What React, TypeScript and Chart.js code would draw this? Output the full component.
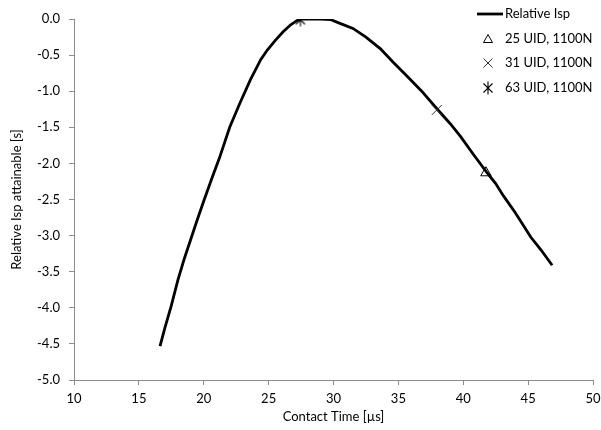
import React, { useEffect, useRef } from "react";
import { Chart, registerables } from "chart.js";

Chart.register(...registerables);

const curveX = [16.63, 17.0, 17.5, 18.0, 18.5, 19.0, 19.5, 20.0, 20.6, 21.2, 22.0, 22.8, 23.6, 24.4, 24.9, 25.5, 26.1, 26.7, 27.2, 27.6, 28.2, 29.0, 29.8, 30.5, 31.5, 32.5, 33.6, 34.6, 35.6, 36.8, 38.0, 39.0, 39.8, 40.8, 41.8, 42.5, 43.1, 44.0, 45.2, 46.0, 46.85];
const curveY = [-4.53, -4.28, -3.97, -3.62, -3.32, -3.05, -2.78, -2.52, -2.22, -1.93, -1.5, -1.16, -0.84, -0.56, -0.43, -0.3, -0.18, -0.08, -0.02, 0.0, 0.0, 0.0, -0.01, -0.06, -0.13, -0.25, -0.41, -0.6, -0.78, -1.0, -1.25, -1.45, -1.63, -1.88, -2.12, -2.28, -2.45, -2.68, -3.02, -3.2, -3.41];

const seriesNames = ["Relative Isp", "25 UID, 1100N", "31 UID, 1100N", "63 UID, 1100N"];
const uid25 = { x: 41.75, y: -2.13 };
const uid31 = { x: 37.96, y: -1.26 };
const uid63 = { x: 27.45, y: -0.01 };

const xTicks = { min: 10, max: 50, step: 5 };
const yTicks = { min: -5, max: 0, step: 0.5 };

const FONT = "Lato, 'Open Sans', sans-serif";
const FS = 13;
const AXIS = "#8c8c8c";

function makeAsterisk(): HTMLCanvasElement {
  const c = document.createElement("canvas");
  c.width = 14;
  c.height = 14;
  const g = c.getContext("2d")!;
  g.strokeStyle = "#000";
  g.lineWidth = 1.1;
  g.beginPath();
  g.moveTo(2.5, 2.5); g.lineTo(11.5, 11.5);
  g.moveTo(11.5, 2.5); g.lineTo(2.5, 11.5);
  g.moveTo(7, 0.5); g.lineTo(7, 13.5);
  g.stroke();
  return c;
}

export default function App() {
  const ref = useRef<HTMLCanvasElement | null>(null);
  useEffect(() => {
    if (!ref.current) return;
    const ast = makeAsterisk();
    const legendPlugin = {
      id: "customLegend",
      afterDraw(chart: any) {
        const ctx = chart.ctx;
        ctx.save();
        ctx.font = `${FS}px ${FONT}`;
        ctx.fillStyle = "#000";
        ctx.textBaseline = "middle";
        ctx.textAlign = "left";
        const tx = 505;
        const mx = 488;
        const ys = [14, 39, 63, 88];
        ctx.strokeStyle = "#000";
        ctx.lineWidth = 2.8;
        ctx.beginPath();
        ctx.moveTo(477, ys[0]);
        ctx.lineTo(503, ys[0]);
        ctx.stroke();
        ctx.lineWidth = 1;
        ctx.strokeStyle = "#000";
        ctx.beginPath();
        ctx.moveTo(mx, ys[1] - 4.5);
        ctx.lineTo(mx + 4.5, ys[1] + 3.5);
        ctx.lineTo(mx - 4.5, ys[1] + 3.5);
        ctx.closePath();
        ctx.stroke();
        ctx.strokeStyle = "#333";
        ctx.beginPath();
        ctx.moveTo(mx - 4.5, ys[2] - 4.5);
        ctx.lineTo(mx + 4.5, ys[2] + 4.5);
        ctx.moveTo(mx + 4.5, ys[2] - 4.5);
        ctx.lineTo(mx - 4.5, ys[2] + 4.5);
        ctx.stroke();
        ctx.drawImage(ast, mx - 7, ys[3] - 7);
        seriesNames.forEach((n, i) => ctx.fillText(n, tx, ys[i]));
        ctx.restore();
      },
    };
    const chart = new Chart(ref.current, {
      type: "scatter",
      data: {
        datasets: [
          {
            label: seriesNames[0],
            data: curveX.map((x, i) => ({ x, y: curveY[i] })),
            showLine: true,
            borderColor: "#000",
            borderWidth: 2.8,
            pointRadius: 0,
            tension: 0,
            order: 2,
          },
          {
            label: seriesNames[1],
            data: [uid25],
            pointStyle: "triangle",
            pointRadius: 6,
            borderColor: "#000",
            backgroundColor: "rgba(0,0,0,0)",
            borderWidth: 1,
            order: 1,
          },
          {
            label: seriesNames[2],
            data: [uid31],
            pointStyle: "crossRot",
            pointRadius: 7,
            borderColor: "#333",
            borderWidth: 1,
            order: 1,
          },
          {
            label: seriesNames[3],
            data: [uid63],
            pointStyle: ast,
            pointRadius: 7,
            order: 1,
          },
        ],
      },
      options: {
        animation: false,
        responsive: false,
        maintainAspectRatio: false,
        layout: { padding: { left: 0, right: 8, top: 19, bottom: 0 } },
        plugins: { legend: { display: false }, tooltip: { enabled: false } },
        scales: {
          x: {
            type: "linear",
            min: xTicks.min,
            max: xTicks.max,
            afterFit(s: any) { s.height = 50; s.paddingRight = 0; s.paddingLeft = 0; },
            border: { color: AXIS, width: 1 },
            grid: { drawOnChartArea: false, color: AXIS, tickLength: 5, tickColor: AXIS },
            ticks: { stepSize: xTicks.step, color: "#000", font: { family: FONT, size: FS }, padding: 6 },
            title: { display: true, text: "Contact Time [µs]", color: "#000", font: { family: FONT, size: FS }, padding: { top: 0, bottom: 5 } },
          },
          y: {
            type: "linear",
            min: yTicks.min,
            max: yTicks.max,
            afterFit(s: any) { s.width = 74; s.paddingTop = 0; s.paddingBottom = 0; },
            border: { color: AXIS, width: 1 },
            grid: { drawOnChartArea: false, color: AXIS, tickLength: 5, tickColor: AXIS },
            ticks: {
              stepSize: yTicks.step,
              color: "#000",
              font: { family: FONT, size: FS },
              padding: 9,
              callback: (v: any) => Number(v).toFixed(1),
            },
            title: { display: true, text: "Relative Isp attainable [s]", color: "#000", font: { family: FONT, size: FS }, padding: { top: 9, bottom: 0 } },
          },
        },
      },
      plugins: [legendPlugin],
    });
    return () => chart.destroy();
  }, []);
  return (
    <div style={{ position: "absolute", left: 0, top: 0, width: 601, height: 430, background: "#fff" }}>
      <canvas ref={ref} width={601} height={430} style={{ width: 601, height: 430, display: "block" }} />
    </div>
  );
}
